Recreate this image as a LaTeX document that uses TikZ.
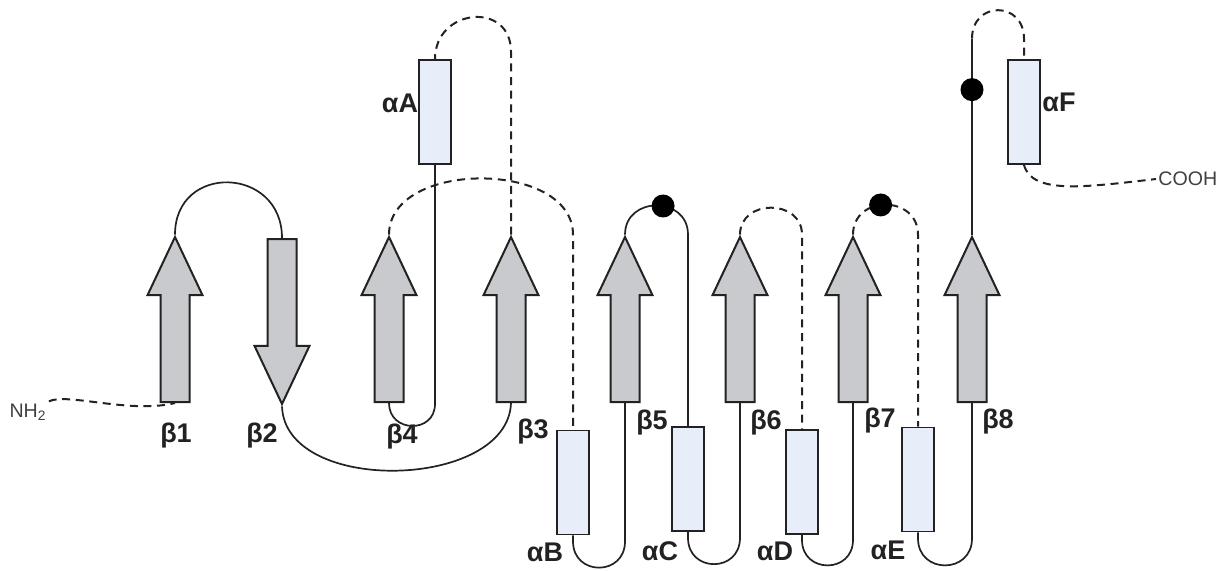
\documentclass[tikz,border=0pt]{standalone}
\usepackage{fontspec}
\setmainfont{Liberation Sans}
\usetikzlibrary{shapes.arrows}

\definecolor{strandgray}{HTML}{C8CACD}
\definecolor{helixblue}{HTML}{E8EEF9}
\definecolor{inkgray}{HTML}{222222}

\begin{document}
\begin{tikzpicture}[
    x=0.5pt, y=-0.5pt,
    strand/.style={single arrow, draw=inkgray, fill=strandgray, line width=1pt,
        minimum height=82.5pt, inner xsep=0pt, inner ysep=6.75pt,
        single arrow head extend=6.5pt, single arrow tip angle=50.6, anchor=tail},
    helix/.style={rectangle, draw=inkgray, fill=helixblue, line width=0.9pt,
        minimum width=16pt, minimum height=52pt, inner sep=0pt},
    loopline/.style={draw=inkgray, line width=0.85pt},
    coil/.style={loopline, line width=1pt, dash pattern=on 4pt off 2.8pt},
    dot/.style={circle, fill=black, minimum size=11.5pt, inner sep=0pt},
    lab/.style={font=\fontsize{13.5}{15}\selectfont\bfseries, text=inkgray, inner sep=0pt},
    term/.style={font=\fontsize{9.8}{11}\selectfont, text=black!75, inner sep=1pt}
]
\useasboundingbox (0,0) rectangle (1222,570);

% Strands
\node[strand, rotate=90] (b1) at (175,403) {};
\node[strand, rotate=-90] (b2) at (282,238) {};
\node[strand, rotate=90] (b4) at (389,403) {};
\node[strand, rotate=90] (b3) at (511,403) {};
\node[strand, rotate=90] (b5) at (625,403) {};
\node[strand, rotate=90] (b6) at (740,403) {};
\node[strand, rotate=90] (b7) at (853,403) {};
\node[strand, rotate=90] (b8) at (972,403) {};

% Helices
\node[helix] (aA) at (435,112) {};
\node[helix] (aB) at (573,482.5) {};
\node[helix] (aC) at (688,479) {};
\node[helix] (aD) at (802,482) {};
\node[helix] (aE) at (918,479.5) {};
\node[helix] (aF) at (1024,112) {};

% Ends
\node[term] (nh2) at (28,412) {NH\textsubscript{2}};
\node[term, anchor=west] (cooh) at (1156,179) {COOH};

% Labels
\node[lab] (lb1) at (176,436) {β1};
\node[lab] (lb2) at (262,436) {β2};
\node[lab] (lb4) at (402,437) {β4};
\node[lab] (lb3) at (533,432) {β3};
\node[lab] (lb5) at (652,423) {β5};
\node[lab] (lb6) at (766,423) {β6};
\node[lab] (lb7) at (880,421) {β7};
\node[lab] (lb8) at (998,422) {β8};
\node[lab] (laA) at (400,103) {αA};
\node[lab] (laB) at (545,552) {αB};
\node[lab] (laC) at (660,551) {αC};
\node[lab] (laD) at (775,551) {αD};
\node[lab] (laE) at (888,550) {αE};
\node[lab] (laF) at (1059,102) {αF};

% Loops
\draw[coil] (nh2.north east) .. controls +(18,-9) and +(-45,11) .. (b1.tail);
\draw[loopline] (b1.tip) .. controls +(0,-72) and +(0,-72) .. (b2.tail);
\draw[loopline] (b2.tip) .. controls +(3,89) and +(-3,87) .. (b3.tail);
\draw[coil] (b3.tip) -- ++(0,-183) .. controls +(0,-51) and +(0,-51) .. (aA.north);
\draw[coil] (b4.tip) .. controls +(0,-75) and +(0,-75) .. (b4.tip -| aB.north) -- (aB.north);
\draw[loopline] (aA.south) -- ++(0,239) .. controls +(0,30) and +(0,30) .. (b4.tail);
\draw[loopline] (aB.south) -- ++(0,6) .. controls +(0,35) and +(0,35) .. ++(52,0) -- (b5.tail);
\draw[loopline] (b5.tip) .. controls +(0,-39) and +(0,-39) .. (b5.tip -| aC.north)
    node[pos=.57, dot] (d5) {} -- (aC.north);
\draw[loopline] (aC.south) -- ++(0,6) .. controls +(0,35) and +(0,35) .. ++(52,0) -- (b6.tail);
\draw[coil] (b6.tip) .. controls +(0,-36) and +(0,-36) .. (b6.tip -| aD.north) -- (aD.north);
\draw[loopline] (aD.south) -- ++(0,5) .. controls +(0,34) and +(0,34) .. ++(51,0) -- (b7.tail);
\draw[coil] (b7.tip) .. controls +(0,-40) and +(0,-40) .. (b7.tip -| aE.north)
    node[pos=.45, dot] (d7) {} -- (aE.north);
\draw[loopline] (aE.south) -- ++(0,6) .. controls +(0,36) and +(0,36) .. ++(54,0) -- (b8.tail);
\draw[loopline] (b8.tip) -- ++(0,-196) coordinate (c8) node[pos=.74, dot] (d8) {};
\draw[coil] (c8) .. controls +(0,-38) and +(0,-38) .. (c8 -| aF.north) -- (aF.north);
\draw[coil] (aF.south) .. controls +(8,30) and +(-70,8) .. (cooh.west);

\end{tikzpicture}
\end{document}
